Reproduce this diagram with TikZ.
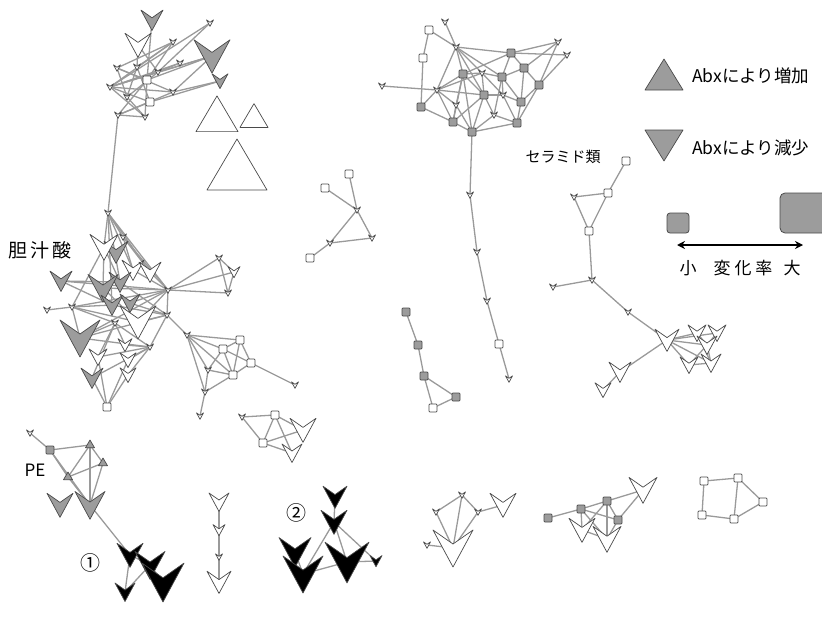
\documentclass[tikz,border=0pt]{standalone}
\usepackage{fontspec}
\setmainfont{Noto Sans CJK JP}
\usetikzlibrary{arrows.meta}
\pgfdeclarelayer{bg}
\pgfsetlayers{bg,main}

\definecolor{nodegray}{HTML}{9C9C9C}
\definecolor{edgegray}{HTML}{9A9A9A}
\definecolor{linegray}{HTML}{4A4A4A}

\tikzset{
  edge/.style={draw=edgegray, line width=1.3pt},
  pics/dn/.style n args={2}{code={
    \filldraw[fill=#2, draw=linegray, line width=0.7pt, line join=round]
      (-#1,-0.9*#1) -- (0,-0.2*#1) -- (#1,-0.9*#1) -- (0,0.95*#1) -- cycle;}},
  pics/up/.style n args={2}{code={
    \filldraw[fill=#2, draw=linegray, line width=0.7pt, line join=round]
      (-#1,0.6*#1) -- (#1,0.6*#1) -- (0,-1.1*#1) -- cycle;}},
  pics/sq/.style={code={
    \filldraw[fill=#1, draw=linegray, line width=0.7pt, rounded corners=0.8pt]
      (-4,-4) rectangle (4,4);}},
  lbl/.style={inner sep=0pt, font=\fontsize{15}{17}\selectfont},
}

\begin{document}
\begin{tikzpicture}[x=1pt, y=-1pt]
  \useasboundingbox (0,0) rectangle (822,621);

  % --- 上左クラスタ ---
  \path (152,20) coordinate (a1) pic {dn={11}{nodegray}};
  \path (138,45) coordinate (a2) pic {dn={13}{white}};
  \path (210,23) coordinate (a3) pic {dn={3.5}{white}};
  \path (173,42) coordinate (a4) pic {dn={3.5}{white}};
  \path (212,56) coordinate (a5) pic {dn={18}{nodegray}};
  \path (220,81) coordinate (a6) pic {dn={8}{nodegray}};
  \path (180,63) coordinate (a7) pic {dn={3.5}{white}};
  \path (117,68) coordinate (a8) pic {dn={3.5}{white}};
  \path (137,67) coordinate (a9) pic {dn={3.5}{white}};
  \path (158,72) coordinate (a10) pic {dn={3.5}{white}};
  \path (147,80) coordinate (a11) pic {sq=white};
  \path (150,102) coordinate (a12) pic {sq=white};
  \path (110,87) coordinate (a13) pic {dn={3.5}{white}};
  \path (127,97) coordinate (a14) pic {dn={3.5}{white}};
  \path (173,92) coordinate (a15) pic {dn={3.5}{white}};
  \path (118,115) coordinate (a16) pic {dn={3.5}{white}};
  \path (145,117) coordinate (a17) pic {dn={3.5}{white}};

  % --- セラミド類 ---
  \path (445,22) coordinate (b1) pic {dn={3.5}{white}};
  \path (429,30) coordinate (b2) pic {sq=white};
  \path (456,47) coordinate (b3) pic {dn={3.5}{white}};
  \path (558,42) coordinate (b4) pic {dn={3.5}{white}};
  \path (567,55) coordinate (b5) pic {dn={3.5}{white}};
  \path (423,58) coordinate (b6) pic {sq=white};
  \path (511,53) coordinate (b7) pic {sq=nodegray};
  \path (524,68) coordinate (b8) pic {sq=nodegray};
  \path (463,74) coordinate (b9) pic {sq=nodegray};
  \path (482,73) coordinate (b10) pic {dn={3.5}{white}};
  \path (502,77) coordinate (b11) pic {sq=nodegray};
  \path (539,85) coordinate (b12) pic {sq=nodegray};
  \path (382,86) coordinate (b13) pic {dn={3.5}{white}};
  \path (437,90) coordinate (b14) pic {dn={3.5}{white}};
  \path (484,95) coordinate (b15) pic {sq=nodegray};
  \path (503,95) coordinate (b16) pic {dn={3.5}{white}};
  \path (521,102) coordinate (b17) pic {sq=nodegray};
  \path (456,105) coordinate (b18) pic {dn={3.5}{white}};
  \path (421,107) coordinate (b19) pic {sq=nodegray};
  \path (494,115) coordinate (b20) pic {dn={3.5}{white}};
  \path (453,122) coordinate (b21) pic {sq=nodegray};
  \path (517,123) coordinate (b22) pic {sq=nodegray};
  \path (472,132) coordinate (b23) pic {sq=nodegray};
  \path (470,195) coordinate (b24) pic {dn={3.5}{white}};
  \path (477,252) coordinate (b25) pic {dn={3.5}{white}};
  \path (487,301) coordinate (b26) pic {dn={3.5}{white}};
  \path (499,344) coordinate (b27) pic {sq=white};
  \path (509,379) coordinate (b28) pic {dn={3.5}{white}};
  \node[lbl] (ceramide) at (563,157) {セラミド類};

  % --- 胆汁酸 ---
  \path (108,213) coordinate (c1) pic {dn={3.5}{white}};
  \path (123,237) coordinate (c2) pic {dn={3.5}{white}};
  \path (116,252) coordinate (c4) pic {dn={12}{nodegray}};
  \path (104,247) coordinate (c3) pic {dn={14}{white}};
  \path (61,281) coordinate (c5) pic {dn={11}{nodegray}};
  \path (133,270) coordinate (c6) pic {dn={11}{white}};
  \path (150,272) coordinate (c7) pic {dn={11}{white}};
  \path (120,282) coordinate (c9) pic {dn={11}{nodegray}};
  \path (103,288) coordinate (c8) pic {dn={15}{nodegray}};
  \path (168,290) coordinate (c10) pic {dn={3.5}{white}};
  \path (47,310) coordinate (c11) pic {dn={3.5}{white}};
  \path (72,307) coordinate (c12) pic {dn={3.5}{white}};
  \path (112,305) coordinate (c13) pic {dn={11}{nodegray}};
  \path (130,303) coordinate (c14) pic {dn={10}{nodegray}};
  \path (138,322) coordinate (c15) pic {dn={18}{white}};
  \path (167,315) coordinate (c16) pic {dn={3.5}{white}};
  \path (80,338) coordinate (c17) pic {dn={20}{nodegray}};
  \path (115,323) coordinate (c18) pic {dn={3.5}{white}};
  \path (150,347) coordinate (c19) pic {dn={3.5}{white}};
  \path (125,345) coordinate (c20) pic {dn={7}{white}};
  \path (98,357) coordinate (c23) pic {dn={9}{white}};
  \path (128,360) coordinate (c21) pic {dn={8}{white}};
  \path (128,375) coordinate (c22) pic {dn={8}{white}};
  \path (92,378) coordinate (c24) pic {dn={11}{nodegray}};
  \path (107,407) coordinate (c25) pic {sq=white};
  \path (219,258) coordinate (c26) pic {dn={3.5}{white}};
  \path (234,272) coordinate (c27) pic {dn={6}{white}};
  \path (228,293) coordinate (c28) pic {dn={3.5}{white}};
  \path (187,335) coordinate (c29) pic {dn={3.5}{white}};
  \path (240,340) coordinate (c30) pic {sq=white};
  \path (223,349) coordinate (c31) pic {sq=white};
  \path (251,363) coordinate (c32) pic {sq=white};
  \path (208,370) coordinate (c33) pic {dn={3.5}{white}};
  \path (233,375) coordinate (c34) pic {sq=white};
  \path (205,392) coordinate (c35) pic {dn={3.5}{white}};
  \path (200,416) coordinate (c36) pic {dn={3.5}{white}};
  \path (295,385) coordinate (c37) pic {dn={3.5}{white}};
  \node[lbl, font=\fontsize{19}{21}\selectfont] (bile) at (40,250) {胆\hspace{3pt}汁\hspace{3pt}酸};

  % --- 小クラスタ ---
  \path (242,417) coordinate (k1) pic {dn={3.5}{white}};
  \path (275,415) coordinate (k2) pic {sq=white};
  \path (263,443) coordinate (k3) pic {sq=white};
  \path (303,430) coordinate (k4) pic {dn={13}{white}};
  \path (292,453) coordinate (k5) pic {dn={10}{white}};

  \path (349,174) coordinate (d1) pic {sq=white};
  \path (325,188) coordinate (d2) pic {sq=white};
  \path (357,210) coordinate (d3) pic {dn={3.5}{white}};
  \path (372,238) coordinate (d4) pic {dn={3.5}{white}};
  \path (330,243) coordinate (d5) pic {dn={3.5}{white}};
  \path (310,258) coordinate (d6) pic {sq=white};

  \path (406,312) coordinate (g1) pic {sq=nodegray};
  \path (418,345) coordinate (g2) pic {sq=nodegray};
  \path (424,376) coordinate (g3) pic {sq=nodegray};
  \path (433,408) coordinate (g4) pic {sq=white};
  \path (456,397) coordinate (g5) pic {sq=nodegray};

  \path (626,161) coordinate (e1) pic {sq=white};
  \path (608,193) coordinate (e2) pic {sq=white};
  \path (574,197) coordinate (e3) pic {dn={3.5}{white}};
  \path (589,231) coordinate (e4) pic {sq=white};
  \path (592,280) coordinate (e5) pic {dn={3.5}{white}};
  \path (553,287) coordinate (e6) pic {dn={3.5}{white}};
  \path (628,312) coordinate (e7) pic {dn={3.5}{white}};
  \path (697,333) coordinate (e9) pic {dn={9}{white}};
  \path (717,333) coordinate (e10) pic {dn={9}{white}};
  \path (707,345) coordinate (e11) pic {dn={10}{white}};
  \path (689,365) coordinate (e12) pic {dn={9}{white}};
  \path (711,363) coordinate (e13) pic {dn={10}{white}};
  \path (667,340) coordinate (e8) pic {dn={12}{white}};
  \path (620,372) coordinate (e14) pic {dn={11}{white}};
  \path (603,390) coordinate (e15) pic {dn={8}{white}};

  % --- PE と ① ---
  \path (30,433) coordinate (f1) pic {dn={3.5}{white}};
  \path (50,450) coordinate (f2) pic {sq=nodegray};
  \path (90,445) coordinate (f3) pic {up={4.5}{nodegray}};
  \path (103,463) coordinate (f4) pic {up={4.5}{nodegray}};
  \path (68,477) coordinate (f5) pic {up={4.5}{nodegray}};
  \path (60,505) coordinate (f6) pic {dn={13}{nodegray}};
  \path (90,505) coordinate (f7) pic {dn={15}{nodegray}};
  \path (130,555) coordinate (f9) pic {dn={13}{black}};
  \path (125,592) coordinate (f12) pic {dn={10}{black}};
  \path (150,565) coordinate (f10) pic {dn={15}{black}};
  \path (163,582) coordinate (f11) pic {dn={21}{black}};
  \node[lbl, font=\fontsize{17}{19}\selectfont] (pe) at (35,470) {PE};
  \node[lbl, font=\fontsize{20}{22}\selectfont] (one) at (90,563) {①};

  % --- 縦の列と ② ---
  \path (219,502) coordinate (v1) pic {dn={10}{white}};
  \path (219,530) coordinate (v2) pic {dn={6}{white}};
  \path (219,557) coordinate (v3) pic {dn={3.5}{white}};
  \path (219,582) coordinate (v4) pic {dn={12}{white}};

  \path (335,497) coordinate (w1) pic {dn={12}{black}};
  \path (334,522) coordinate (w2) pic {dn={13}{black}};
  \path (295,552) coordinate (w3) pic {dn={16}{black}};
  \path (303,574) coordinate (w4) pic {dn={20}{black}};
  \path (347,562) coordinate (w5) pic {dn={22}{black}};
  \path (376,561) coordinate (w6) pic {dn={6}{black}};
  \node[lbl, font=\fontsize{20}{22}\selectfont] (two) at (296,513) {②};

  \path (462,495) coordinate (h1) pic {dn={3.5}{white}};
  \path (436,512) coordinate (h2) pic {dn={3.5}{white}};
  \path (478,512) coordinate (h3) pic {dn={3.5}{white}};
  \path (503,505) coordinate (h4) pic {dn={13}{white}};
  \path (453,548) coordinate (h5) pic {dn={20}{white}};
  \path (427,545) coordinate (h6) pic {dn={3.5}{white}};

  \path (548,518) coordinate (i1) pic {sq=nodegray};
  \path (581,509) coordinate (i2) pic {sq=nodegray};
  \path (607,501) coordinate (i3) pic {sq=nodegray};
  \path (618,520) coordinate (i4) pic {sq=nodegray};
  \path (582,530) coordinate (i5) pic {dn={13}{white}};
  \path (607,539) coordinate (i6) pic {dn={14}{white}};
  \path (643,490) coordinate (i7) pic {dn={14}{white}};

  \path (704,481) coordinate (j1) pic {sq=white};
  \path (738,478) coordinate (j2) pic {sq=white};
  \path (763,502) coordinate (j3) pic {sq=white};
  \path (702,515) coordinate (j4) pic {sq=white};
  \path (734,519) coordinate (j5) pic {sq=white};

  % 白い上向き三角
  \path (217,119) coordinate (t1) pic {up={21}{white}};
  \path (254,119) coordinate (t2) pic {up={14}{white}};
  \path (237,172) coordinate (t3) pic {up={30}{white}};

  % --- エッジ ---
  \begin{pgfonlayer}{bg}
    \foreach \u/\v in {a1/a11, a2/a9, a2/a10, a3/a10, a3/a13, a4/a8, a4/a9, a4/a13,
        a4/a11, a5/a10, a5/a13, a5/a11, a5/a15, a6/a15, a6/a12, a7/a10, a7/a13,
        a8/a11, a8/a15, a8/a14, a9/a12, a9/a14, a10/a14, a10/a13, a11/a16,
        a11/a17, a12/a13, a12/a16, a13/a15, a13/a17, a14/a17, a15/a16, a16/a17,
        a16/c1}
      \draw[edge] (\u) -- (\v);
    \foreach \u/\v in {b1/b3, b2/b6, b2/b3, b6/b19, b3/b7, b3/b9, b3/b10, b3/b11,
        b3/b15, b3/b14, b4/b7, b4/b8, b4/b12, b5/b7, b5/b12, b13/b14, b14/b9,
        b14/b10, b14/b15, b14/b19, b14/b21, b14/b18, b7/b8, b7/b11, b7/b9,
        b8/b12, b8/b17, b8/b11, b9/b10, b9/b15, b9/b18, b9/b21, b10/b11,
        b10/b15, b11/b16, b11/b17, b12/b17, b12/b22, b15/b16, b15/b20, b15/b21,
        b15/b23, b16/b17, b16/b22, b17/b22, b18/b21, b18/b23, b19/b21, b20/b22,
        b20/b23, b21/b23, b22/b23, b10/b16, b9/b23, b11/b20, b23/b24, b24/b25,
        b25/b26, b26/b27, b27/b28}
      \draw[edge] (\u) -- (\v);
    \foreach \u/\v in {c1/c2, c1/c3, c1/c6, c1/c7, c1/c10, c1/c9, c1/c13, c2/c7,
        c2/c10, c2/c6, c3/c8, c3/c9, c3/c12, c5/c10, c5/c9, c5/c13, c11/c12,
        c12/c10, c12/c13, c12/c15, c12/c17, c12/c18, c6/c10, c7/c10, c8/c10,
        c8/c15, c9/c16, c13/c16, c14/c10, c14/c16, c15/c16, c15/c10, c17/c16,
        c17/c19, c17/c18, c17/c10, c18/c19, c18/c20, c20/c19, c21/c19, c22/c19,
        c23/c18, c23/c19, c24/c19, c24/c18, c24/c25, c22/c25, c21/c25, c23/c25,
        c10/c16, c16/c19, c10/c26, c10/c27, c10/c28, c26/c27, c26/c28, c27/c28,
        c16/c29, c29/c30, c29/c31, c29/c33, c29/c34, c29/c35, c30/c31, c30/c32,
        c30/c34, c31/c32, c31/c34, c31/c33, c32/c34, c33/c35, c34/c35, c32/c37,
        c35/c36, c33/c34}
      \draw[edge] (\u) -- (\v);
    \foreach \u/\v in {k1/k2, k1/k3, k2/k3, k2/k4, k2/k5, k3/k4, k3/k5,
        d1/d3, d2/d3, d3/d4, d3/d5, d4/d5, d5/d6,
        g1/g2, g2/g3, g3/g4, g3/g5, g4/g5,
        e1/e2, e2/e3, e2/e4, e3/e4, e4/e5, e5/e6, e5/e7, e7/e8, e8/e9, e8/e10,
        e8/e11, e8/e12, e8/e13, e9/e11, e10/e11, e11/e12, e11/e13, e12/e13,
        e9/e13, e8/e14, e14/e15}
      \draw[edge] (\u) -- (\v);
    \foreach \u/\v in {f1/f2, f2/f3, f2/f5, f2/f7, f3/f4, f3/f5, f3/f7, f4/f5,
        f4/f7, f5/f7, f7/f9, f9/f10, f10/f11, f9/f12, f10/f12,
        v1/v2, v2/v3, v3/v4,
        w1/w2, w2/w4, w2/w5, w2/w6, w4/w5, w5/w6, w3/w4,
        h1/h2, h1/h3, h1/h5, h2/h5, h3/h5, h3/h4, h6/h5,
        i1/i2, i2/i3, i2/i5, i3/i4, i3/i6, i2/i4, i3/i7, i4/i7, i5/i6, i4/i6,
        i3/i5, i2/i6,
        j1/j2, j1/j4, j2/j5, j2/j3, j3/j5, j4/j5}
      \draw[edge] (\u) -- (\v);
  \end{pgfonlayer}

  % --- 凡例 ---
  \filldraw[fill=nodegray, draw=linegray, line width=0.7pt, line join=round]
    (645,90) -- (683,90) -- (664,59) -- cycle;
  \node[lbl, anchor=west, font=\fontsize{17.5}{19}\selectfont] (inc) at (692,76) {Abxにより増加};
  \filldraw[fill=nodegray, draw=linegray, line width=0.7pt, line join=round]
    (645,130) -- (683,130) -- (664,161) -- cycle;
  \node[lbl, anchor=west, font=\fontsize{17.5}{19}\selectfont] (dec) at (692,148) {Abxにより減少};
  \filldraw[fill=nodegray, draw=linegray, line width=0.8pt, rounded corners=3pt]
    (667,213) rectangle (689,233);
  \begin{scope}
    \clip (0,0) rectangle (822,621);
    \filldraw[fill=nodegray, draw=linegray, line width=0.8pt, rounded corners=5pt]
      (780,193) rectangle (835,233);
  \end{scope}
  \coordinate (small) at (677,245);
  \coordinate (large) at (803,245);
  \draw[{Stealth[length=8pt,width=8pt]}-{Stealth[length=8pt,width=8pt]}, line width=1.5pt]
    (small) -- (large);
  \node[lbl, font=\fontsize{17}{19}\selectfont] (lo) at (688,268) {小};
  \node[lbl, font=\fontsize{17}{19}\selectfont] (rate) at (743,268) {変\hspace{4pt}化\hspace{4pt}率};
  \node[lbl, font=\fontsize{17}{19}\selectfont] (hi) at (792,268) {大};
\end{tikzpicture}
\end{document}
